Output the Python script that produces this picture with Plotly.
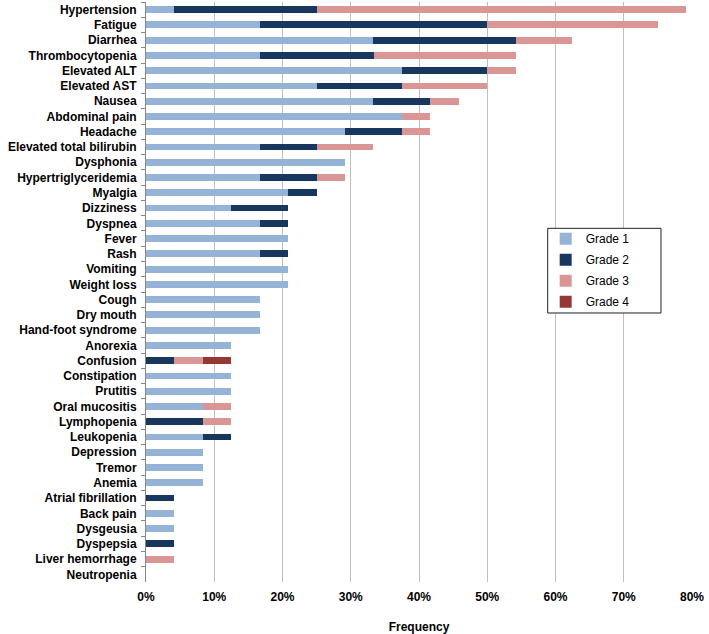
import plotly.graph_objects as go

categories = [
    "Hypertension", "Fatigue", "Diarrhea", "Thrombocytopenia", "Elevated ALT",
    "Elevated AST", "Nausea", "Abdominal pain", "Headache", "Elevated total bilirubin",
    "Dysphonia", "Hypertriglyceridemia", "Myalgia", "Dizziness", "Dyspnea",
    "Fever", "Rash", "Vomiting", "Weight loss", "Cough",
    "Dry mouth", "Hand-foot syndrome", "Anorexia", "Confusion", "Constipation",
    "Prutitis", "Oral mucositis", "Lymphopenia", "Leukopenia", "Depression",
    "Tremor", "Anemia", "Atrial fibrillation", "Back pain", "Dysgeusia",
    "Dyspepsia", "Liver hemorrhage", "Neutropenia",
]

grade1 = [4.17, 16.67, 33.33, 16.67, 37.5, 25.0, 33.33, 37.5, 29.17, 16.67,
          29.17, 16.67, 20.83, 12.5, 16.67, 20.83, 16.67, 20.83, 20.83, 16.67,
          16.67, 16.67, 12.5, 0, 12.5, 12.5, 8.33, 0, 8.33, 8.33,
          8.33, 8.33, 0, 4.17, 4.17, 0, 0, 0]
grade2 = [20.83, 33.33, 20.83, 16.67, 12.5, 12.5, 8.33, 0, 8.33, 8.33,
          0, 8.33, 4.17, 8.33, 4.17, 0, 4.17, 0, 0, 0,
          0, 0, 0, 4.17, 0, 0, 0, 8.33, 4.17, 0,
          0, 0, 4.17, 0, 0, 4.17, 0, 0]
grade3 = [54.17, 25.0, 8.33, 20.83, 4.17, 12.5, 4.17, 4.17, 4.17, 8.33,
          0, 4.17, 0, 0, 0, 0, 0, 0, 0, 0,
          0, 0, 0, 4.17, 0, 0, 4.17, 4.17, 0, 0,
          0, 0, 0, 0, 0, 0, 4.17, 0]
grade4 = [0] * 23 + [4.17] + [0] * 14

series_names = ["Grade 1", "Grade 2", "Grade 3", "Grade 4"]
series_values = [grade1, grade2, grade3, grade4]
series_colors = ["#95B3D7", "#17375E", "#D99694", "#953735"]

x_ticks = [0, 10, 20, 30, 40, 50, 60, 70, 80]

fig = go.Figure()
for name, vals, col in zip(series_names, series_values, series_colors):
    fig.add_trace(go.Bar(
        y=categories, x=vals, name=name, orientation="h",
        legendgroup=name,
        marker=dict(color=col, line=dict(width=0)),
        hovertemplate="%{y}: %{x:.1f}%<extra>" + name + "</extra>",
    ))

font_family = "Liberation Sans, Arial, sans-serif"

# legend frame (white box with dark border)
fig.add_shape(
    type="rect", xref="paper", yref="paper",
    x0=0.7357, x1=0.9432, y0=0.4638, y1=0.6098,
    line=dict(color="#222222", width=1), fillcolor="white", layer="above",
)

fig.update_layout(
    barmode="stack",
    bargap=0.55,
    width=709, height=634,
    margin=dict(l=146, r=17, t=2, b=52),
    paper_bgcolor="white", plot_bgcolor="white",
    font=dict(family=font_family, size=12, color="black"),
    legend=dict(
        x=0.732, y=0.617, xanchor="left", yanchor="top",
        bgcolor="rgba(0,0,0,0)", borderwidth=0,
        font=dict(size=12, color="black"),
        traceorder="grouped",
        tracegroupgap=2,
    ),
    showlegend=True,
)

fig.update_xaxes(
    range=[0, 80],
    tickvals=x_ticks,
    ticktext=[f"{v}%" for v in x_ticks],
    tickfont=dict(size=12, weight="bold"),
    ticklabelstandoff=6,
    showgrid=True, gridcolor="#BFBFBF", gridwidth=1,
    zeroline=False, showline=False,
    ticks="",
    automargin=False,
    title=dict(text="Frequency", font=dict(size=12, weight="bold"), standoff=20),
)

fig.update_yaxes(
    categoryorder="array", categoryarray=categories,
    autorange="reversed",
    tickfont=dict(size=12, weight="bold"),
    ticklabelstandoff=6,
    showline=True, linecolor="#868686", linewidth=1,
    ticks="outside", tickson="boundaries", ticklen=4, tickcolor="#868686",
    showgrid=False,
    automargin=False,
)

fig.write_html(
    "out.html",
    config={"displayModeBar": False},
    post_script="document.body.style.margin='0';",
)
